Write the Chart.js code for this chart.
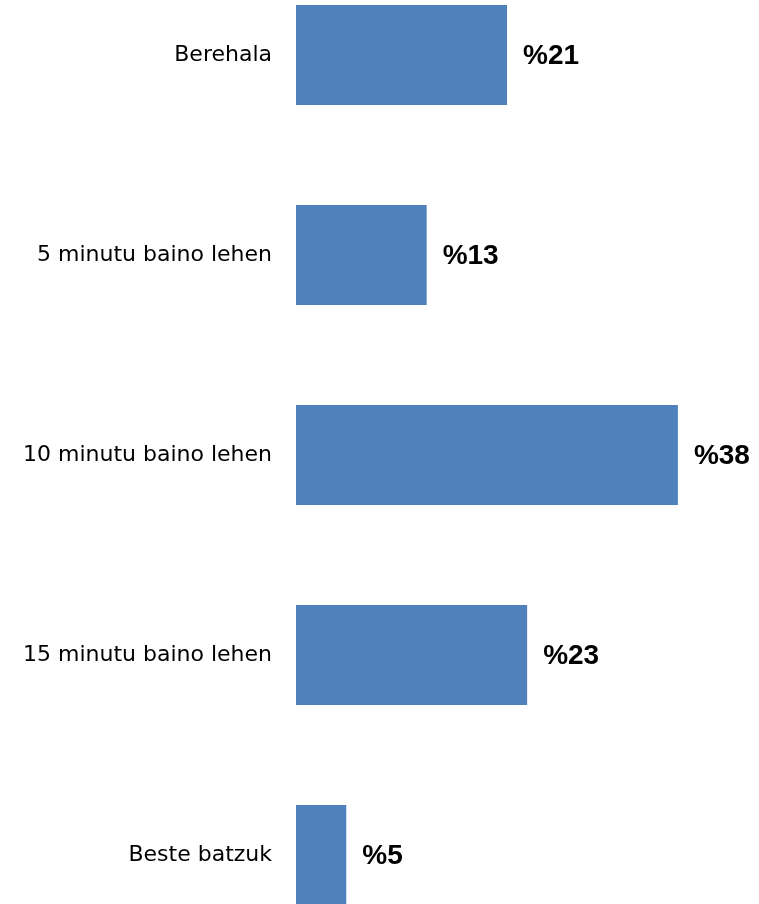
<!DOCTYPE html>
<html>
<head>
<meta charset="utf-8">
<script src="https://cdn.jsdelivr.net/npm/chart.js@4"></script>
<style>
  html, body { margin: 0; padding: 0; background: #fff; overflow: hidden; }
  #wrap { position: absolute; left: 0; top: -45px; width: 759px; height: 1000px; }
</style>
</head>
<body>
<div id="wrap"><canvas id="chart" width="759" height="1000"></canvas></div>
<script>
const categories = ['Berehala', '5 minutu baino lehen', '10 minutu baino lehen', '15 minutu baino lehen', 'Beste batzuk'];
const values = [21, 13, 38, 23, 5];
const valueLabels = ['%21', '%13', '%38', '%23', '%5'];

// writes the percentage just past the end of each bar
const barLabels = {
    id: 'barLabels',
    afterDatasetsDraw(chart) {
        const ctx = chart.ctx;
        const bars = chart.getDatasetMeta(0).data;
        ctx.save();
        ctx.font = 'bold 28px "Liberation Sans"';
        ctx.fillStyle = '#000';
        ctx.textAlign = 'left';
        ctx.textBaseline = 'middle';
        bars.forEach(function (bar, i) {
            ctx.fillText(valueLabels[i], bar.x + 16, bar.y + 1);
        });
        ctx.restore();
    }
};

const ctx = document.getElementById('chart').getContext('2d');
new Chart(ctx, {
    type: 'bar',
    data: {
        labels: categories,
        datasets: [{
            data: values,
            backgroundColor: '#4f81bd',
            borderWidth: 0,
            barPercentage: 0.5,
            categoryPercentage: 1
        }]
    },
    options: {
        indexAxis: 'y',
        responsive: false,
        animation: false,
        layout: { padding: { left: 0, right: 61, top: 0, bottom: 0 } },
        plugins: {
            legend: { display: false },
            tooltip: { enabled: false }
        },
        scales: {
            x: {
                display: false,
                min: 0,
                max: 40
            },
            y: {
                grid: { display: false, drawTicks: false },
                border: { display: false },
                ticks: {
                    color: '#000',
                    padding: 24,
                    font: { family: '"DejaVu Sans"', size: 22 }
                },
                afterFit(scale) {
                    // keep the bands spanning the full canvas height
                    scale.width = 296;
                    scale.paddingTop = 0;
                    scale.paddingBottom = 0;
                }
            }
        }
    },
    plugins: [barLabels]
});
</script>
</body>
</html>
